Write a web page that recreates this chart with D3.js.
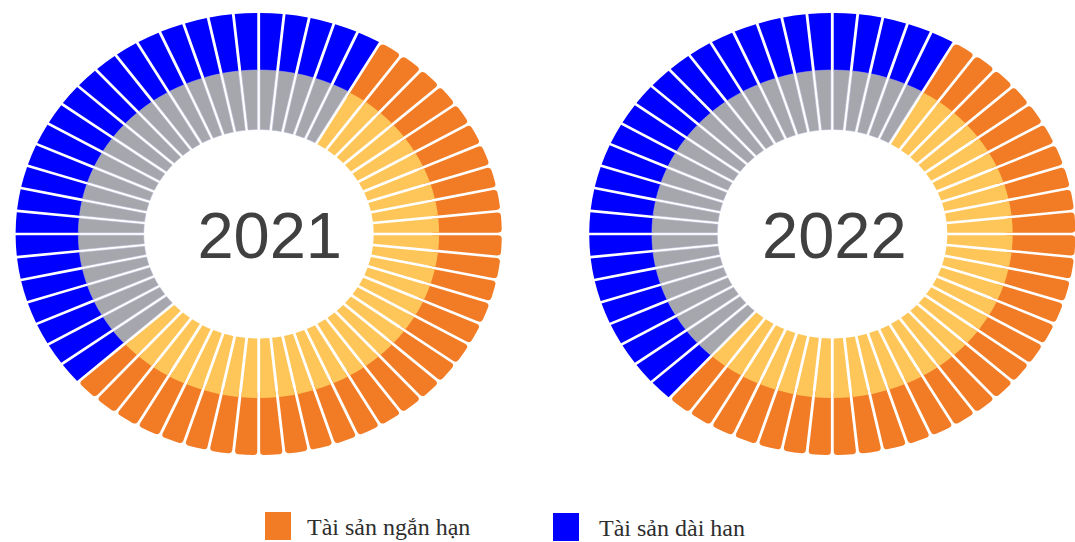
<!DOCTYPE html>
<html>
<head>
<meta charset="utf-8">
<script src="https://cdn.jsdelivr.net/npm/d3@7"></script>
<style>
  html, body { margin: 0; padding: 0; background: #ffffff; }
  svg { display: block; }
</style>
</head>
<body>
<svg id="chart" width="1075" height="542"></svg>
<script>
// ---- data ----
const years = ["2021", "2022"];
const totalSegments = 60;              // segments per ring
const shortTermSegments = [33, 32];    // Tài sản ngắn hạn (orange)
const longTermSegments = [27, 28];     // Tài sản dài han (blue)
const legendLabels = ["Tài sản ngắn hạn", "Tài sản dài han"];

// ---- styles / layout ----
const colors = {
  shortOuter: "#f27b26",
  shortInner: "#fec659",
  longOuter: "#0000ff",
  longInner: "#a6a7ad"
};
const startOffset = 5;                 // orange starts 5 segments after 12 o'clock
const centers = [[258.7, 234], [832.3, 234]];
const labelShift = [11, 2];
const xStretch = 1.1;
const rInner = 104.5, rMid = 164, rOuter = 221;
const padR = 190, gap = 2.6;

const svg = d3.select("#chart");
const angle = d3.scaleLinear().domain([0, totalSegments]).range([0, 2 * Math.PI]);

years.forEach((yr, k) => {
  const segs = d3.range(totalSegments).map(i => {
    const rel = (i - startOffset + totalSegments) % totalSegments;
    const type = rel < shortTermSegments[k] ? "short" : "long";
    return { i, type };
  });

  const g = svg.append("g")
    .attr("transform", `translate(${centers[k][0]},${centers[k][1]}) scale(${xStretch},1)`);

  const arcOuterShort = d3.arc()
    .innerRadius(rMid - 8).outerRadius(rOuter)
    .startAngle(d => angle(d.i)).endAngle(d => angle(d.i + 1))
    .padAngle(gap / padR).padRadius(padR).cornerRadius(3.5);
  const arcOuterLong = d3.arc()
    .innerRadius(rMid - 1).outerRadius(rOuter)
    .startAngle(d => angle(d.i)).endAngle(d => angle(d.i + 1))
    .padAngle(gap / padR).padRadius(padR);
  const arcInner = d3.arc()
    .innerRadius(rInner).outerRadius(rMid)
    .startAngle(d => angle(d.i)).endAngle(d => angle(d.i + 1))
    .padAngle(gap / padR).padRadius(padR);

  g.selectAll("path.outer")
    .data(segs)
    .join("path")
    .attr("class", "outer")
    .attr("d", d => d.type === "short" ? arcOuterShort(d) : arcOuterLong(d))
    .attr("fill", d => d.type === "short" ? colors.shortOuter : colors.longOuter);

  g.selectAll("path.inner")
    .data(segs)
    .join("path")
    .attr("class", "inner")
    .attr("d", arcInner)
    .attr("fill", d => d.type === "short" ? colors.shortInner : colors.longInner)
    .attr("stroke", d => d.type === "short" ? "none" : "#b4b4d4")
    .attr("stroke-width", 0.5);

  svg.append("text")
    .attr("x", centers[k][0] + labelShift[k])
    .attr("y", centers[k][1] + 24)
    .attr("text-anchor", "middle")
    .attr("font-family", "Liberation Sans, Arial, sans-serif")
    .attr("font-size", 65)
    .attr("fill", "#404040")
    .text(yr);
});

// ---- legend ----
const legendItems = [
  { label: legendLabels[0], color: colors.shortOuter, sx: 265, sy: 512, tx: 307, ty: 535 },
  { label: legendLabels[1], color: colors.longOuter, sx: 553, sy: 513, tx: 599, ty: 536 }
];
legendItems.forEach(it => {
  svg.append("rect")
    .attr("x", it.sx).attr("y", it.sy)
    .attr("width", 26).attr("height", 28)
    .attr("fill", it.color);
  svg.append("text")
    .attr("x", it.tx).attr("y", it.ty)
    .attr("font-family", "Liberation Serif, serif")
    .attr("font-size", 24)
    .attr("fill", "#2e2e2e")
    .text(it.label);
});
</script>
</body>
</html>
